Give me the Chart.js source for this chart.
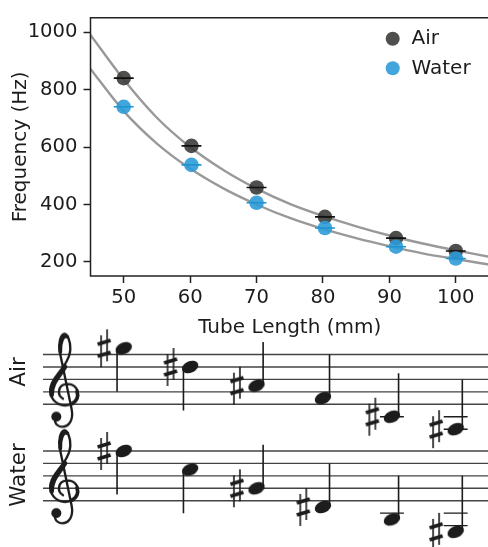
<!DOCTYPE html>
<html>
<head>
<meta charset="utf-8">
<script src="https://cdn.jsdelivr.net/npm/chart.js@4/dist/chart.umd.min.js"></script>
<style>
    html, body { margin: 0; padding: 0; background: #fff; overflow: hidden; }
    #wrap { position: relative; width: 488px; height: 547px; overflow: hidden; }
    canvas { position: absolute; left: 0; }
    #freq { top: 0; }
    #staff { top: 320px; }
</style>
</head>
<body>
<div id="wrap">
    <canvas id="staff" width="490" height="227"></canvas>
    <canvas id="freq" width="490" height="340"></canvas>
</div>
<script>
// ====== data ======
const tubeLengths = [50, 60.2, 70, 80.3, 91, 100];
const airFreq = [840, 604, 459, 357, 283, 238];
const waterFreq = [740, 538, 406, 318, 253, 212];
const xErr = 1.5;

const fitLengths = [45, 50, 55, 60, 65, 70, 75, 80, 85, 90, 95, 100, 105];
const airFit = [990, 835, 702, 600, 520, 455, 402, 360, 324, 292, 264, 240, 218];
const waterFit = [872, 725, 612, 525, 456, 400, 353, 315, 283, 255, 230, 210, 191];

const xTicks = [50, 60, 70, 80, 90, 100];
const yTicks = [200, 400, 600, 800, 1000];

// staff position of each note: 0 = bottom line, 8 = top line
const noteX = [50, 60, 70, 80, 90.4, 100];
const airSteps = [9, 6, 3, 1, -2, -4];
const waterSteps = [8, 5, 2, -1, -3, -5];
const airSharps = [1, 1, 1, 0, 1, 1];
const waterSharps = [1, 0, 1, 1, 0, 1];
const stemDown = [1, 1, 0, 0, 0, 0];
const staffLines = [0, 2, 4, 6, 8];
const waterOffset = -15.5;   // water staff sits this many steps below the air staff

const INK = '#1c1c1c';
const AIR = 'rgba(60, 60, 58, 0.9)';
const WATER = 'rgba(45, 155, 215, 0.9)';
const FONT = "'DejaVu Sans', sans-serif";

// ====== frequency chart ======
const points = (xs, ys) => xs.map((x, i) => ({ x, y: ys[i] }));
const errorBars = (xs, ys) => xs.flatMap((x, i) => [
    { x: x - xErr, y: ys[i] }, { x: x + xErr, y: ys[i] }, { x, y: null },
]);

const lineSet = (data, color, width, order) => ({
    data, showLine: true, borderColor: color, borderWidth: width,
    pointRadius: 0, spanGaps: false, order,
});
const markerSet = (data, color, order) => ({
    data, showLine: false, backgroundColor: color, borderWidth: 0, pointRadius: 7.3, order,
});

const spines = {
    id: 'spines',
    afterDatasetsDraw(chart) {
        const { ctx, chartArea: a } = chart;
        ctx.save();
        ctx.strokeStyle = '#222';
        ctx.lineWidth = 1.5;
        ctx.strokeRect(a.left, a.top, a.right - a.left, a.bottom - a.top);
        ctx.restore();
    },
};

const cornerLegend = {
    id: 'cornerLegend',
    afterDraw(chart) {
        const { ctx } = chart;
        ctx.save();
        ctx.font = '20px ' + FONT;
        ctx.textBaseline = 'middle';
        [['Air', AIR, 38.7], ['Water', WATER, 68.3]].forEach(([label, color, y]) => {
            ctx.fillStyle = color;
            ctx.beginPath();
            ctx.arc(392.7, y, 7, 0, Math.PI * 2);
            ctx.fill();
            ctx.fillStyle = INK;
            ctx.fillText(label, 411.5, y + 0.5);
        });
        ctx.restore();
    },
};

new Chart(document.getElementById('freq').getContext('2d'), {
    type: 'scatter',
    data: {
        datasets: [
            lineSet(errorBars(tubeLengths, waterFreq), '#1f93d0', 1.6, 1),
            markerSet(points(tubeLengths, waterFreq), WATER, 2),
            lineSet(errorBars(tubeLengths, airFreq), '#111', 1.6, 3),
            markerSet(points(tubeLengths, airFreq), AIR, 4),
            { ...lineSet(points(fitLengths, airFit), '#999', 2.4, 5), cubicInterpolationMode: 'monotone' },
            { ...lineSet(points(fitLengths, waterFit), '#999', 2.4, 6), cubicInterpolationMode: 'monotone' },
        ],
    },
    options: {
        responsive: false,
        animation: false,
        devicePixelRatio: 1,
        layout: { autoPadding: false, padding: { top: 12.5, right: 1, left: 0, bottom: 0 } },
        plugins: { legend: { display: false }, tooltip: { enabled: false } },
        scales: {
            x: {
                type: 'linear', min: 45, max: 105,
                afterBuildTicks: (s) => { s.ticks = xTicks.map((value) => ({ value })); },
                afterFit: (s) => { s.height = 64; },
                grid: { drawOnChartArea: false, tickLength: 7, tickWidth: 1.5, tickColor: '#222' },
                border: { display: false },
                ticks: { color: INK, font: { family: FONT, size: 19.6 }, padding: 3, maxRotation: 0 },
                title: { display: true, text: 'Tube Length (mm)', color: INK, font: { family: FONT, size: 20 }, padding: { top: 1, bottom: 0 } },
            },
            y: {
                min: 151, max: 1050,
                afterBuildTicks: (s) => { s.ticks = yTicks.map((value) => ({ value })); },
                afterFit: (s) => { s.width = 90.5; },
                grid: { drawOnChartArea: false, tickLength: 7, tickWidth: 1.5, tickColor: '#222' },
                border: { display: false },
                ticks: { color: INK, font: { family: FONT, size: 19.6 }, padding: 6, callback: (v) => String(v) },
                title: { display: true, text: 'Frequency (Hz)', color: INK, font: { family: FONT, size: 20 }, padding: { top: 9, bottom: 0 } },
            },
        },
    },
    plugins: [spines, cornerLegend],
});

// ====== glyphs for the staves ======
function glyph(w, h, draw) {
    const c = document.createElement('canvas');
    c.width = w;
    c.height = h;
    const g = c.getContext('2d');
    g.fillStyle = INK;
    g.strokeStyle = INK;
    g.lineCap = 'round';
    g.lineJoin = 'round';
    draw(g);
    return c;
}

const noteHead = glyph(22, 20, (g) => {
    g.beginPath();
    g.ellipse(11, 10, 8.6, 5.8, -0.42, 0, Math.PI * 2);
    g.fill();
});

const sharpSign = glyph(20, 42, (g) => {
    g.lineCap = 'butt';
    g.lineWidth = 1.6;
    g.beginPath();
    g.moveTo(7, 8); g.lineTo(7, 40);
    g.moveTo(13, 2); g.lineTo(13, 34);
    g.stroke();
    g.lineWidth = 3.6;
    g.beginPath();
    g.moveTo(3.5, 17); g.lineTo(16.5, 13);
    g.moveTo(3.5, 29); g.lineTo(16.5, 25);
    g.stroke();
});

// outline taken from the zoomed reference, in 3x units
const trebleClef = glyph(50, 100, (g) => {
    g.scale(1 / 3, 1 / 3);
    g.lineWidth = 7;
    g.beginPath();
    g.moveTo(72, 208);
    g.bezierCurveTo(52, 196, 58, 166, 82, 164);
    g.bezierCurveTo(108, 162, 120, 182, 116, 200);
    g.bezierCurveTo(112, 222, 86, 232, 66, 226);
    g.bezierCurveTo(40, 218, 28, 192, 36, 168);
    g.bezierCurveTo(44, 138, 92, 104, 94, 60);
    g.bezierCurveTo(95, 34, 84, 12, 76, 13);
    g.bezierCurveTo(64, 16, 58, 40, 62, 66);
    g.lineTo(98, 240);
    g.bezierCurveTo(104, 272, 90, 292, 70, 292);
    g.bezierCurveTo(58, 292, 50, 284, 48, 276);
    g.stroke();
    // thick parts of the stroke
    g.lineWidth = 14;
    g.beginPath();
    g.moveTo(38, 196);
    g.bezierCurveTo(36, 160, 62, 140, 78, 112);
    g.stroke();
    g.lineWidth = 11;
    g.beginPath();
    g.moveTo(85, 22);
    g.bezierCurveTo(72, 14, 62, 40, 64, 68);
    g.moveTo(114, 186);
    g.bezierCurveTo(120, 202, 112, 216, 100, 222);
    g.stroke();
    g.beginPath();
    g.arc(52, 262, 15, 0, Math.PI * 2);
    g.fill();
});

// ====== staves ======
const STEM = 1.0;       // stem offset from the note centre, in mm
const SHARP = 2.95;     // sharp offset to the left of the note, in mm
const LEDGER = 1.8;     // half width of a ledger line, in mm
const STAFF_LEFT = 37.85;
const STAFF_RIGHT = 105.17;

const gapped = (segments) => segments.flatMap(([a, b]) => [a, b, { x: a.x, y: null }]);

function staffSegments(offset) {
    return staffLines.map((s) => [{ x: STAFF_LEFT, y: s + offset }, { x: STAFF_RIGHT, y: s + offset }]);
}
function stemSegments(steps, offset) {
    return steps.map((s, i) => {
        const x = noteX[i] + (stemDown[i] ? -STEM : STEM);
        const end = stemDown[i] ? s - 7 : Math.max(s + 7, 4);
        return [{ x, y: s + offset }, { x, y: end + offset }];
    });
}
function ledgerSegments(steps, offset) {
    return steps.flatMap((s, i) => {
        const out = [];
        for (let l = -2; l >= s; l -= 2) {
            out.push([{ x: noteX[i] - LEDGER, y: l + offset }, { x: noteX[i] + LEDGER, y: l + offset }]);
        }
        return out;
    });
}
const notePoints = (steps, offset) => steps.map((s, i) => ({ x: noteX[i], y: s + offset }));
const sharpPoints = (steps, flags, offset) => steps
    .map((s, i) => ({ x: noteX[i] - SHARP, y: s + offset, on: flags[i] }))
    .filter((p) => p.on);
const clefPoints = (offset) => [{ x: 41, y: 4 + offset }];

const glyphSet = (data, image) => ({ data, showLine: false, pointStyle: image, pointRadius: 10, clip: false });

const staffLabels = {
    id: 'staffLabels',
    afterDraw(chart) {
        const { ctx } = chart;
        ctx.save();
        ctx.font = '21.5px ' + FONT;
        ctx.fillStyle = INK;
        ctx.textAlign = 'center';
        ctx.textBaseline = 'middle';
        [['Air', 52], ['Water', 155]].forEach(([label, y]) => {
            ctx.save();
            ctx.translate(19, y);
            ctx.rotate(-Math.PI / 2);
            ctx.fillText(label, 0, 0);
            ctx.restore();
        });
        ctx.restore();
    },
};

new Chart(document.getElementById('staff').getContext('2d'), {
    type: 'scatter',
    data: {
        datasets: [
            lineSet(gapped([...staffSegments(0), ...staffSegments(waterOffset)]), '#444', 1.4, 9),
            lineSet(gapped([...stemSegments(airSteps, 0), ...stemSegments(waterSteps, waterOffset)]), INK, 1.6, 5),
            lineSet(gapped([...ledgerSegments(airSteps, 0), ...ledgerSegments(waterSteps, waterOffset)]), INK, 1.4, 5),
            glyphSet([...notePoints(airSteps, 0), ...notePoints(waterSteps, waterOffset)], noteHead),
            glyphSet([...sharpPoints(airSteps, airSharps, 0), ...sharpPoints(waterSteps, waterSharps, waterOffset)], sharpSign),
            glyphSet([...clefPoints(0), ...clefPoints(waterOffset)], trebleClef),
        ],
    },
    options: {
        responsive: false,
        animation: false,
        devicePixelRatio: 1,
        layout: { autoPadding: false, padding: 0 },
        plugins: { legend: { display: false }, tooltip: { enabled: false } },
        scales: {
            x: { type: 'linear', display: false, min: 31.37, max: 105.17 },
            y: { display: false, min: -22.94, max: 13.55 },
        },
    },
    plugins: [staffLabels],
});
</script>
</body>
</html>
